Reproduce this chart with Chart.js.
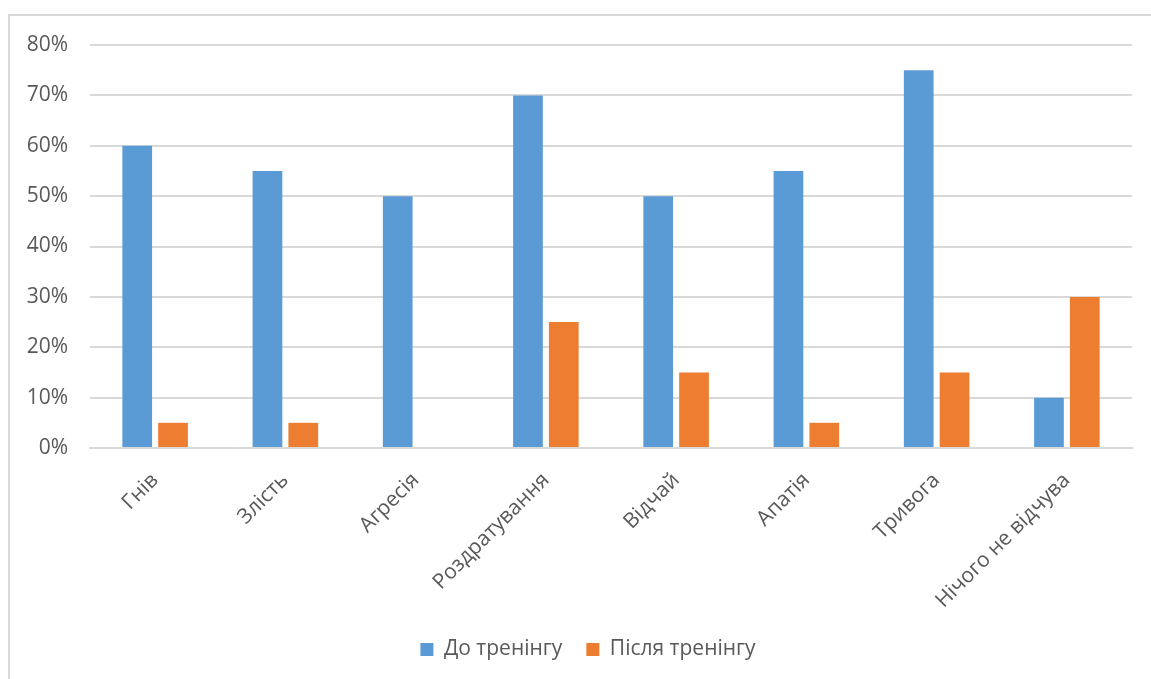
<!DOCTYPE html>
<html>
<head>
<meta charset="utf-8">
<script src="https://cdn.jsdelivr.net/npm/chart.js@4/dist/chart.umd.min.js"></script>
<style>
  html, body { margin: 0; padding: 0; background: #fff; overflow: hidden; }
  #frame {
    position: absolute; left: 8px; top: 14px; width: 1200px; height: 700px;
    border-left: 2px solid #d9d9d9; border-top: 2px solid #d9d9d9;
  }
  #wrap { position: absolute; left: 0; top: 0; width: 1151px; height: 679px; }
</style>
</head>
<body>
<div id="frame"></div>
<div id="wrap"><canvas id="chart" width="1151" height="679"></canvas></div>
<script>
// емоції та частки опитаних, %
const categories = ["Гнів", "Злість", "Агресія", "Роздратування", "Відчай", "Апатія", "Тривога", "Нічого не відчува"];
const beforeTraining = [60, 55, 50, 70, 50, 55, 75, 10];
const afterTraining = [5, 5, 0, 25, 15, 5, 15, 30];
const seriesNames = ["До тренінгу", "Після тренінгу"];
const yTicks = [0, 10, 20, 30, 40, 50, 60, 70, 80];

const textColor = "#595959";
const gridColor = "#d9d9d9";
const fontFamily = "'Open Sans', 'Noto Sans', sans-serif";

// легенда центрується по всій рамці діаграми, а не лише по області графіка
const legendShift = {
    id: "legendShift",
    afterLayout(chart) {
        chart.legend.left = 0;
        chart.legend.right = 1176;
    },
};

const ctx = document.getElementById("chart").getContext("2d");

new Chart(ctx, {
    type: "bar",
    data: {
        labels: categories,
        datasets: [
            {
                label: seriesNames[0],
                data: beforeTraining,
                backgroundColor: "#5b9bd5",
                categoryPercentage: 0.55,
                barPercentage: 0.83,
            },
            {
                label: seriesNames[1],
                data: afterTraining,
                backgroundColor: "#ed7d31",
                categoryPercentage: 0.55,
                barPercentage: 0.83,
            },
        ],
    },
    options: {
        responsive: false,
        animation: false,
        layout: {
            padding: { top: 45, right: 19, bottom: 9, left: 0 },
        },
        plugins: {
            legend: {
                position: "bottom",
                labels: {
                    color: textColor,
                    font: { family: fontFamily, size: 21 },
                    boxWidth: 13,
                    boxHeight: 13,
                    padding: 24,
                },
            },
            tooltip: { enabled: false },
        },
        scales: {
            x: {
                grid: { display: false },
                border: { color: gridColor, width: 2 },
                ticks: {
                    color: textColor,
                    font: { family: fontFamily, size: 21 },
                    minRotation: 45,
                    maxRotation: 45,
                    autoSkip: false,
                    padding: 12,
                },
                afterFit: (scale) => { scale.height = 167; },
            },
            y: {
                min: 0,
                max: 80,
                afterBuildTicks: (scale) => { scale.ticks = yTicks.map(v => ({ value: v })); },
                grid: { color: gridColor, lineWidth: 2, drawTicks: false },
                border: { display: false },
                ticks: {
                    color: textColor,
                    font: { family: fontFamily, size: 21 },
                    padding: 22,
                    callback: (v) => v + "%",
                },
                afterFit: (scale) => { scale.width = 90; },
            },
        },
    },
    plugins: [legendShift],
});
</script>
</body>
</html>
